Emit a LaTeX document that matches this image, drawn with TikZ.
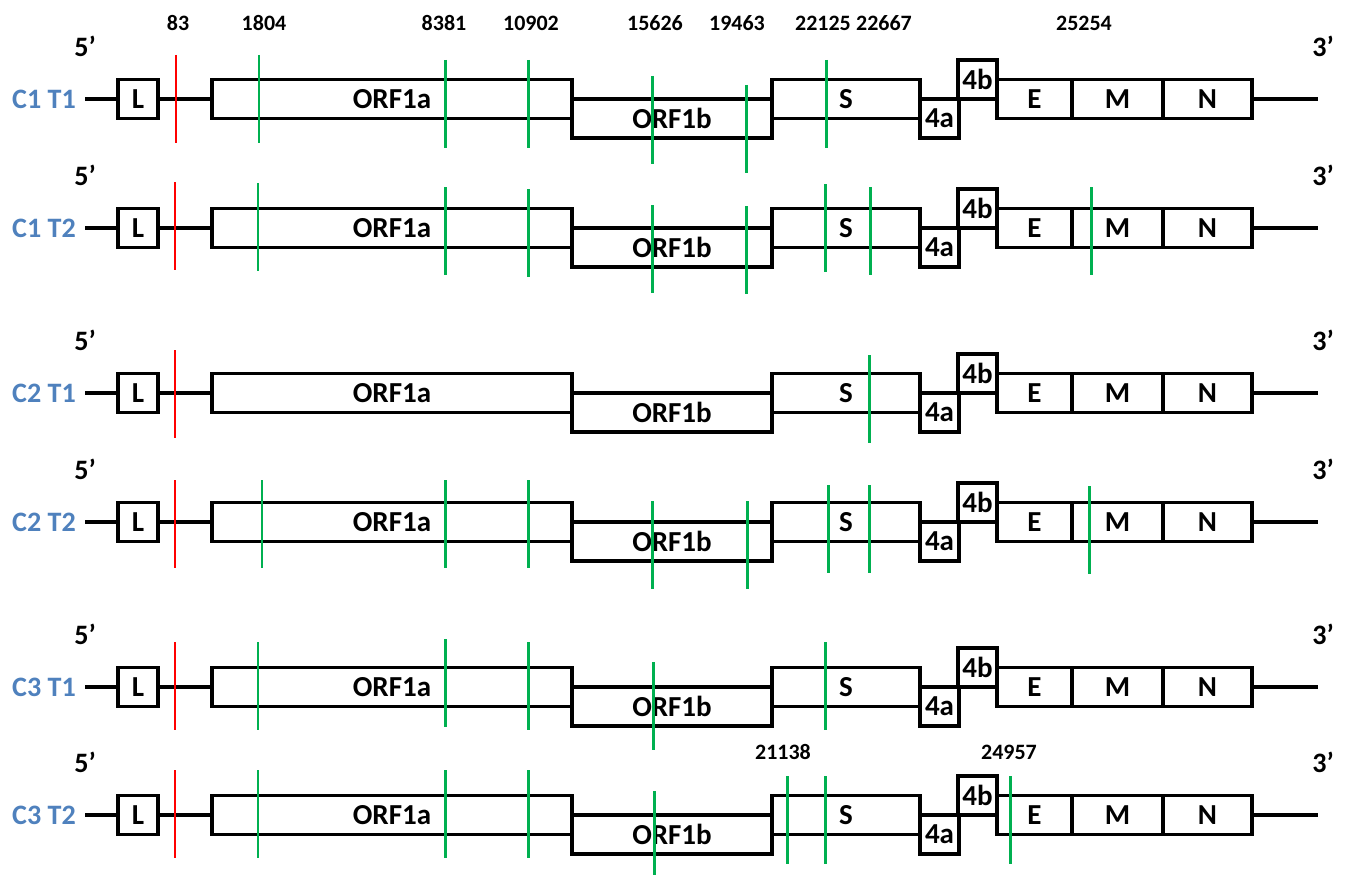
\documentclass[tikz,border=0pt]{standalone}
\usepackage{fontspec}
\setmainfont{Carlito}
\usepackage{tikz}
\definecolor{rowblue}{HTML}{4F81BD}
\definecolor{mutgreen}{HTML}{00B050}
\definecolor{mutred}{HTML}{FF0000}
\newcommand{\pw}{0.02cm}
\newcommand{\genomerow}[3]{%
  \node[rowlabel] (#1-name) at (44,#2) {#3};
  \node[endlabel] (#1-five) at (85,#2-53) {5’};
  \node[endlabel] (#1-three) at (1323,#2-53) {3’};
  \coordinate (#1-start) at (85,#2);
  \coordinate (#1-stop) at (1318,#2);
  \node[gene, minimum width=40*\pw] (#1-L) at (138,#2) {L};
  \node[gene, minimum width=360*\pw] (#1-orf1a) at (392,#2) {ORF1a};
  \node[gene, minimum width=200*\pw] (#1-orf1b) at (672,#2+19.5) {ORF1b};
  \node[gene, minimum width=148*\pw] (#1-S) at (846,#2) {S};
  \node[gene, minimum width=39*\pw] (#1-4a) at (939.5,#2+19.5) {4a};
  \node[gene, minimum width=39*\pw] (#1-4b) at (977.5,#2-19.5) {4b};
  \node[gene, minimum width=75*\pw] (#1-E) at (1034.5,#2) {E};
  \node[gene, minimum width=91*\pw] (#1-M) at (1117.5,#2) {M};
  \node[gene, minimum width=89*\pw] (#1-N) at (1207.5,#2) {N};
  \draw[wire] (#1-start) -- (#1-L);
  \draw[wire] (#1-L) -- (#1-orf1a);
  \draw[wire] (#1-N) -- (#1-stop);
}
\newcommand{\muts}[2]{\foreach \mx/\my in {#2} \draw[#1] (\mx,\my) -- ++(0,88);}

\begin{document}
\begin{tikzpicture}[
  x=0.02cm, y=-0.02cm,
  wire/.style={line width=2pt},
  gene/.style={draw, line width=2pt, fill=white, inner sep=0pt, minimum height=39*\pw, font=\bfseries\fontsize{16.5}{18}\selectfont},
  rowlabel/.style={text=rowblue, font=\bfseries\fontsize{16}{18}\selectfont},
  endlabel/.style={font=\bfseries\fontsize{16}{18}\selectfont},
  poslabel/.style={font=\bfseries\fontsize{12.5}{14}\selectfont},
  snp/.style={draw=mutgreen, line width=1.7pt},
  snpred/.style={draw=mutred, line width=1.7pt}
]
\useasboundingbox (0,0) rectangle (1348,875);

\genomerow{c1t1}{99}{C1 T1}
\genomerow{c1t2}{228}{C1 T2}
\genomerow{c2t1}{393}{C2 T1}
\genomerow{c2t2}{522}{C2 T2}
\genomerow{c3t1}{687}{C3 T1}
\genomerow{c3t2}{815}{C3 T2}

% positions
\node[poslabel] (p83) at (178,23) {83};
\node[poslabel] (p1804) at (264,23) {1804};
\node[poslabel] (p8381) at (444,23) {8381};
\node[poslabel] (p10902) at (531,23) {10902};
\node[poslabel] (p15626) at (655,23) {15626};
\node[poslabel] (p19463) at (737,23) {19463};
\node[poslabel] (p22125) at (823,23) {22125};
\node[poslabel] (p22667) at (884,23) {22667};
\node[poslabel] (p25254) at (1084,23) {25254};
\node[poslabel] (p21138) at (783,752) {21138};
\node[poslabel] (p24957) at (1009,752) {24957};

% mutations
\muts{snpred}{176/55, 175/182, 175/350, 175/480, 175/642, 175/770}
\muts{snp}{259/55, 445/60, 528/60, 652/76, 746/85, 826/60}
\muts{snp}{258/183, 445/187, 528/189, 652/205, 746/206, 825/184, 870/187, 1091/187}
\muts{snp}{869/355}
\muts{snp}{262/480, 445/480, 528/480, 652/501, 747/501, 828/485, 869/485, 1089/486}
\muts{snp}{258/642, 445/639, 528/642, 653/662, 825/642}
\muts{snp}{258/770, 445/770, 528/770, 654/791, 787/776, 825/776, 1010/776}
\end{tikzpicture}
\end{document}
